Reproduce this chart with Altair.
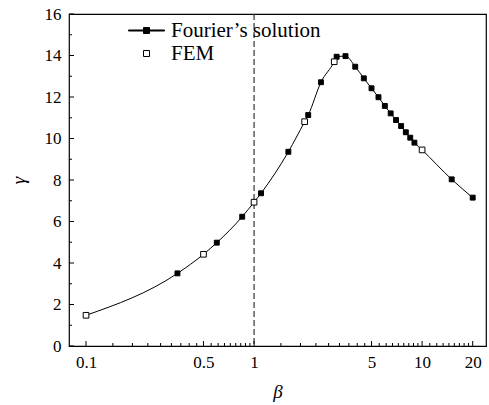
import altair as alt
import pandas as pd

# ---- data ----
fourier_x = [0.35, 0.6, 0.85, 1.1, 1.6, 2.1, 2.5, 3.1, 3.5, 4, 4.5, 5, 5.5, 6, 6.5, 7, 7.5, 8, 8.5, 9, 15, 20]
fourier_y = [3.50, 4.98, 6.23, 7.36, 9.36, 11.13, 12.71, 13.94, 13.97, 13.46, 12.90, 12.42, 11.99, 11.57, 11.21,
             10.89, 10.60, 10.30, 10.04, 9.80, 8.03, 7.15]
fem_x = [0.1, 0.5, 1, 2, 3, 10]
fem_y = [1.48, 4.42, 6.93, 10.81, 13.70, 9.45]

x_major = [0.1, 0.5, 1, 5, 10, 20]
y_major = [0, 2, 4, 6, 8, 10, 12, 14, 16]
y_minor = [1, 3, 5, 7, 9, 11, 13, 15]
ref_beta = [1]

SER_F = "Fourier\u2019s solution"
SER_E = "FEM"

# minor ticks: 8 equal subdivisions between consecutive major ticks
x_minor = [a + (b - a) * k / 9 for a, b in zip(x_major, x_major[1:]) for k in range(1, 9)]

pts = pd.DataFrame({
    "beta": fourier_x + fem_x,
    "gamma": fourier_y + fem_y,
    "series": [SER_F] * len(fourier_x) + [SER_E] * len(fem_x),
})
line_df = pts.sort_values("beta").reset_index(drop=True)

W, H = 417, 332
FONT = "'Liberation Serif', 'Times New Roman', Times, serif"

xscale = alt.Scale(type="log", domain=[0.0792, 24], nice=False)
yscale = alt.Scale(domain=[0, 16], nice=False, zero=False)

xaxis = alt.Axis(values=x_major, format="~g", ticks=False, domain=False, grid=False,
                 labelFont=FONT, labelFontSize=17, labelColor="black", labelPadding=8,
                 labelFlush=False, labelOverlap=False,
                 title="\u03b2", titleFont=FONT, titleFontStyle="italic", titleFontWeight="normal",
                 titleFontSize=19, titleColor="black", titleY=45, titleBaseline="middle")
yaxis = alt.Axis(values=y_major, ticks=False, domain=False, grid=False,
                 labelFont=FONT, labelFontSize=17, labelColor="black", labelPadding=8,
                 labelFlush=False, labelOverlap=False,
                 title="\u03b3", titleFont=FONT, titleFontStyle="italic", titleFontWeight="normal",
                 titleFontSize=19, titleColor="black", titleAngle=270, titleX=-51, titleY=H / 2,
                 titleAlign="center", titleBaseline="middle")


def X(field="beta"):
    return alt.X(f"{field}:Q", scale=xscale, axis=xaxis)


def Y(field="gamma"):
    return alt.Y(f"{field}:Q", scale=yscale, axis=yaxis)


ref = alt.Chart(pd.DataFrame({"beta": ref_beta})).mark_rule(
    color="#333333", strokeWidth=1.2, strokeDash=[6, 3]
).encode(x=X())

line = alt.Chart(line_df).mark_line(
    color="black", strokeWidth=1, interpolate="monotone"
).encode(x=X(), y=Y())

leg_common = dict(title=None, orient="none", legendX=67, padding=0,
                  labelFont=FONT, labelFontSize=21, labelColor="black", labelOffset=14, labelLimit=400,
                  symbolSize=36, symbolStrokeWidth=1, symbolOpacity=1)

legend_f = alt.Legend(legendY=6, symbolType="M-6,-0.17H6V0.17H-6Z M-1,-1H1V1H-1Z",
                      symbolFillColor="black", symbolStrokeColor="black", **leg_common)
legend_e = alt.Legend(legendY=29, symbolType="square", symbolFillColor="white", **leg_common)

pts_f = alt.Chart(pts).transform_filter(alt.datum.series == SER_F).mark_square(
    size=24, stroke="black", strokeWidth=1, opacity=1
).encode(x=X(), y=Y(),
         fill=alt.Fill("series:N", scale=alt.Scale(domain=[SER_F], range=["black"]), legend=legend_f))

pts_e = alt.Chart(pts).transform_filter(alt.datum.series == SER_E).mark_point(
    shape="square", size=32, filled=False, fill="white", fillOpacity=1, strokeWidth=1, opacity=1
).encode(x=X(), y=Y(),
         stroke=alt.Stroke("series:N", scale=alt.Scale(domain=[SER_E], range=["black"]), legend=legend_e))

xt_major = alt.Chart(pd.DataFrame({"beta": x_major})).mark_rule(color="black", strokeWidth=1).encode(
    x=X(), y=alt.value(H), y2=alt.value(H - 5))
xt_minor = alt.Chart(pd.DataFrame({"beta": x_minor})).mark_rule(color="black", strokeWidth=1).encode(
    x=X(), y=alt.value(H), y2=alt.value(H - 3))
yt_major = alt.Chart(pd.DataFrame({"gamma": y_major})).mark_rule(color="black", strokeWidth=1).encode(
    y=Y(), x=alt.value(0), x2=alt.value(5))
yt_minor = alt.Chart(pd.DataFrame({"gamma": y_minor})).mark_rule(color="black", strokeWidth=1).encode(
    y=Y(), x=alt.value(0), x2=alt.value(3))

chart = alt.layer(ref, line, xt_major, xt_minor, yt_major, yt_minor, pts_f, pts_e).properties(
    width=W, height=H,
    autosize=alt.AutoSizeParams(type="none"),
    padding={"left": 69, "top": 14, "right": 3, "bottom": 59},
    background="white",
).configure_view(stroke="black", strokeWidth=1.2)

chart.save("out.html", embed_options={"renderer": "svg", "actions": False})
